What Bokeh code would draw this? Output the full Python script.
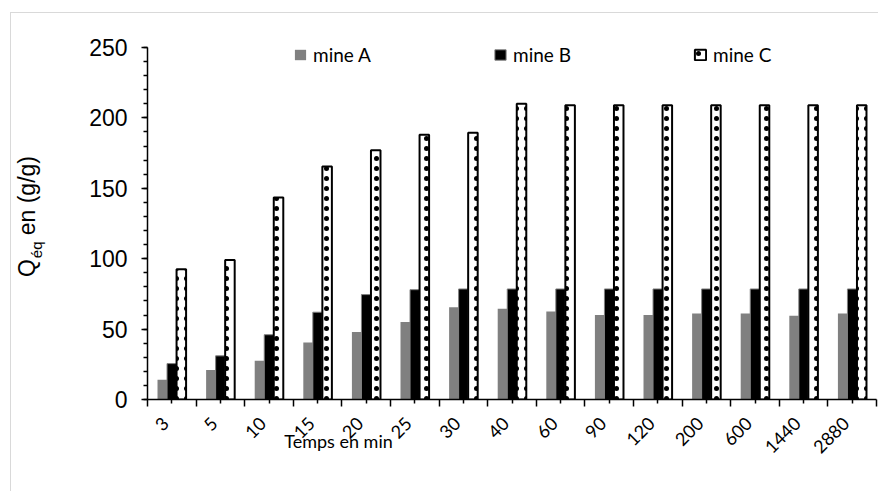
from math import pi
from bokeh.plotting import figure
from bokeh.models import (FixedTicker, SingleIntervalTicker, Legend, LegendItem, LinearAxis,
                          Range1d, ColumnDataSource, Row)
from bokeh.transform import dodge
from bokeh.embed import file_html
from bokeh.resources import INLINE

# ---- data ----
times = ["3", "5", "10", "15", "20", "25", "30", "40", "60", "90", "120", "200", "600", "1440", "2880"]
mine_a = [14, 21, 27.5, 40.5, 48, 55, 65.5, 64.5, 62.5, 60, 60, 61, 61, 59.5, 61]
mine_b = [25.5, 31, 46, 62, 74.5, 78, 78.5, 78.5, 78.5, 78.5, 78.5, 78.5, 78.5, 78.5, 78.5]
mine_c = [92.5, 99, 143.5, 165.5, 177, 188, 189.5, 210, 209, 209, 209, 209, 209, 209, 209]
series_names = ["mine A", "mine B", "mine C"]
y_tick_step = 50
y_max = 250
x_title = "Temps en min"
NB = "\u00a0"
y_title_main = "Q" + NB + NB + "\u2009 en (g/g)"   # gap left for the subscript
y_title_sub = "éq" + NB * 16                       # padded so it sits under the gap

# ---- layout (page pixels) ----
OX, OY = 11, 13            # content origin inside the light border
H = 478
W = 878 - OX
F_LEFT, F_RIGHT = 147, 876
Y0_PX, YMAX_PX, F_TOP = 399, 47, 33
X_TITLE_CENTER_PX = 338
n = len(times)
xs = list(range(1, n + 1))
y_end = y_max * (Y0_PX - F_TOP) / (Y0_PX - YMAX_PX)
ux = (F_RIGHT - F_LEFT) / n
x_title_c = round(0.5 + (X_TITLE_CENTER_PX - F_LEFT) / ux, 2)

src = ColumnDataSource(dict(x=xs, a=mine_a, b=mine_b, c=mine_c))

p = figure(width=W, height=H, output_backend="svg", toolbar_location=None,
           x_range=Range1d(0.5, n + 0.5), y_range=Range1d(0, y_end),
           min_border_left=F_LEFT - OX, min_border_right=878 - F_RIGHT,
           min_border_top=F_TOP - OY, min_border_bottom=OY + H - Y0_PX)
p.outline_line_color = None
p.xgrid.visible = False
p.ygrid.visible = False
p.background_fill_color = "white"
p.border_fill_color = "white"

bw = 0.196
ra = p.vbar(x=dodge("x", -bw, range=p.x_range), top="a", width=bw, source=src,
            fill_color="#808080", line_color=None)
rb = p.vbar(x="x", top="b", width=bw, source=src,
            fill_color="black", line_color="#808080", line_width=1)
rc = p.vbar(x=dodge("x", bw, range=p.x_range), top="c", width=bw, source=src,
            fill_color="white", line_color="black", line_width=2,
            hatch_pattern="dot", hatch_color="black", hatch_scale=10, hatch_weight=0.5)

# x axis (labels padded so their ends sit just left of the tick, as in the original)
xa = p.xaxis[0]
xa.ticker = FixedTicker(ticks=xs, minor_ticks=[i + 0.5 for i in range(0, n + 1)])
xa.major_label_overrides = {x: t + NB + NB for x, t in zip(xs, times)}
xa.major_label_orientation = pi / 4
xa.major_label_text_font = "Lato"
xa.major_label_text_font_size = "18px"
xa.major_label_text_color = "black"
xa.major_label_standoff = 7
xa.axis_line_color = "black"
xa.axis_line_width = 1.5
xa.major_tick_line_color = "black"
xa.major_tick_line_width = 1.5
xa.major_tick_in = 0
xa.major_tick_out = 4
xa.minor_tick_line_color = "black"
xa.minor_tick_line_width = 1.5
xa.minor_tick_in = 0
xa.minor_tick_out = 7

# x title, drawn as the single label of a label-only axis under the left part of the plot
title_ax = LinearAxis(ticker=FixedTicker(ticks=[x_title_c], minor_ticks=[]),
                      axis_line_color=None, major_tick_out=0, major_tick_in=0,
                      minor_tick_out=0, minor_tick_in=0,
                      major_label_overrides={x_title_c: x_title},
                      major_label_standoff=-39,
                      major_label_text_font="Lato", major_label_text_font_size="18px",
                      major_label_text_color="black")
p.add_layout(title_ax, "below")

# y axis (with main part of the title)
ya = p.yaxis[0]
ya.ticker = SingleIntervalTicker(interval=y_tick_step, num_minor_ticks=5)
ya.bounds = (0, y_max)
ya.major_label_text_font = "Liberation Sans"
ya.major_label_text_font_size = "23px"
ya.major_label_text_color = "black"
ya.major_label_standoff = 14
ya.axis_line_color = "black"
ya.axis_line_width = 1.5
ya.major_tick_line_color = "black"
ya.major_tick_line_width = 1.5
ya.major_tick_in = 0
ya.major_tick_out = 6
ya.minor_tick_line_color = "black"
ya.minor_tick_line_width = 1.5
ya.minor_tick_in = 0
ya.minor_tick_out = 4
ya.axis_label = y_title_main
ya.axis_label_text_font = "Liberation Sans"
ya.axis_label_text_font_size = "23px"
ya.axis_label_text_font_style = "normal"
ya.axis_label_text_color = "black"
ya.axis_label_standoff = 46

# subscript of the y title, carried by an extra label-only axis
sub_ax = LinearAxis(ticker=FixedTicker(ticks=[]), bounds=(0, y_max),
                    axis_line_color=None, major_tick_out=0, major_tick_in=0,
                    minor_tick_out=0, minor_tick_in=0,
                    axis_label=y_title_sub, axis_label_standoff=-33,
                    axis_label_text_font="Liberation Sans", axis_label_text_font_size="15px",
                    axis_label_text_font_style="normal", axis_label_text_color="black")
p.add_layout(sub_ax, "left")

legend = Legend(items=[LegendItem(label=nm, renderers=[r]) for nm, r in zip(series_names, [ra, rb, rc])],
                orientation="horizontal", location=(293 - F_LEFT, Y0_PX - 66), padding=0, margin=0,
                spacing=0, glyph_width=14, glyph_height=13, label_width=180,
                label_height=13, label_standoff=6, border_line_color=None,
                background_fill_alpha=0, label_text_font="Lato",
                label_text_font_size="19px", label_text_color="black")
p.add_layout(legend)

root = Row(children=[p], spacing=0, margin=(12, 0, 0, 10),
           styles={"border-left": "1px solid #d9d9d9", "border-top": "1px solid #d9d9d9"})

open("out.html", "w").write(file_html(root, INLINE))
